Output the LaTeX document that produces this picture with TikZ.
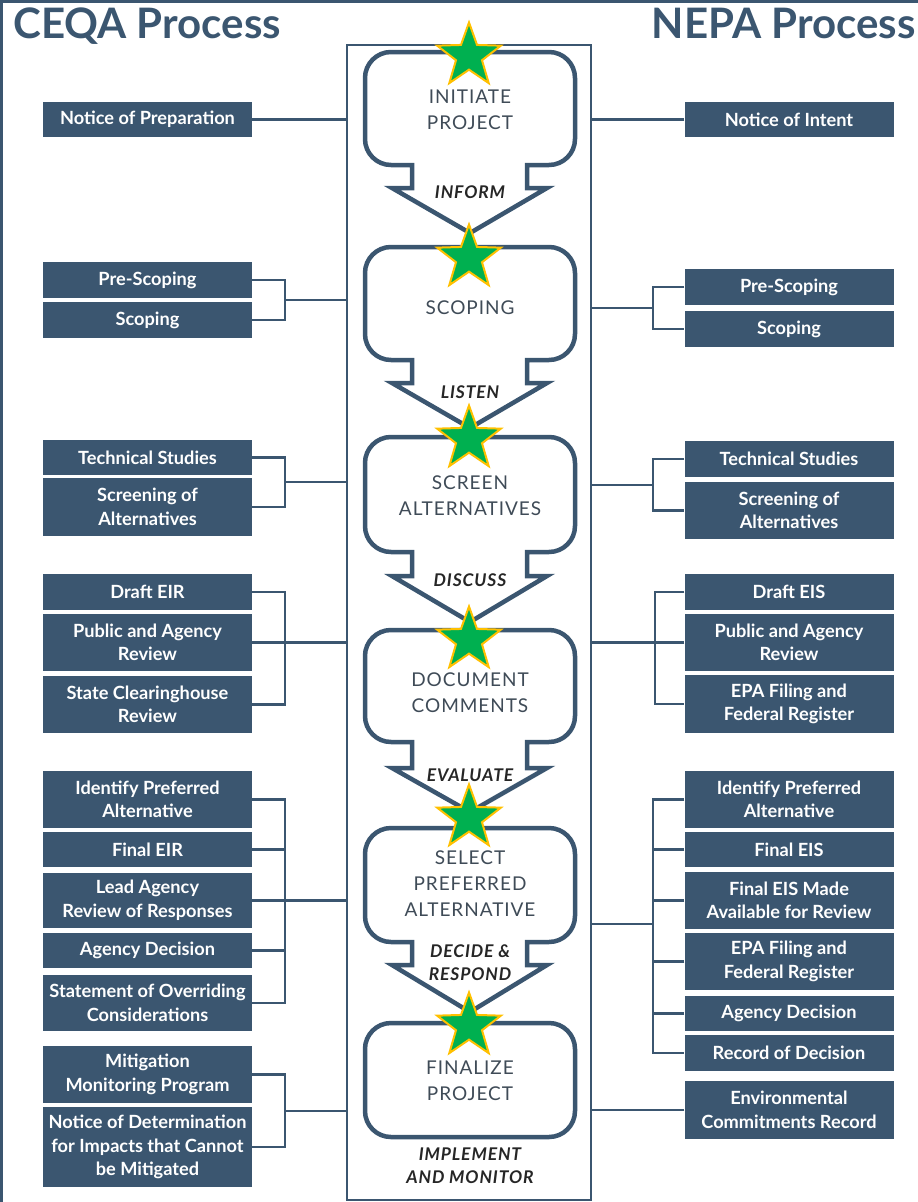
\documentclass[tikz,border=0pt]{standalone}
\usepackage{fontspec}
\setmainfont{Lato}
\newfontfamily\stagefont[LetterSpace=5]{Lato}
\newfontfamily\cuefont[LetterSpace=5]{Lato}
\usetikzlibrary{shapes.geometric}

\definecolor{boxblue}{HTML}{3B5670}
\definecolor{stagegray}{HTML}{3F4B57}
\definecolor{cuegray}{HTML}{262626}
\definecolor{stargreen}{HTML}{00B050}
\definecolor{stargold}{HTML}{FFC000}

\begin{document}
\begin{tikzpicture}[x=1pt, y=-1pt,
    title/.style={text=boxblue, font=\bfseries\fontsize{42}{50}\selectfont, inner sep=0pt},
    spine/.style={draw=boxblue, line width=2, minimum width=244, minimum height=1155, inner sep=0pt},
    stageline/.style={draw=boxblue, line width=4.5},
    stagetext/.style={text=stagegray, font=\stagefont\fontsize{19}{26}\selectfont, align=center},
    cue/.style={text=cuegray, font=\cuefont\bfseries\itshape\fontsize{17.5}{23}\selectfont, align=center},
    gstar/.style={star, star points=5, star point ratio=2.45, minimum size=67, inner sep=0pt,
        fill=stargreen, draw=stargold, line width=2},
    procbox/.style={fill=boxblue, text=white, font=\bfseries\fontsize{18.2}{23.5}\selectfont,
        align=center, inner sep=0pt, minimum width=209, minimum height=#1},
    link/.style={draw=boxblue, line width=2.2}]
    \useasboundingbox (0,0) rectangle (918,1202);

    % Frame edges
    \fill[boxblue] (0,0) rectangle (918,3);
    \fill[boxblue] (0,0) rectangle (3,1202);

    % Titles
    \node[title, anchor=base west] (ceqa) at (13,38) {CEQA Process};
    \node[title, anchor=base east] (nepa) at (916,38) {NEPA Process};

    % Spine
    \node[spine] (spine) at (469,622.5) {};

    % Stages (rounded box with arrow notch)
    \foreach \ya/\yb/\yc/\yd in {52/165/188/233, 247/360/383/428, 437/552/576/622,
                                  630/742/768/812, 828/942/965/1012}
        \draw[stageline] (412,\yb) -- (391,\yb) arc[start angle=90, end angle=180, radius=26]
            -- (365,\ya+26) arc[start angle=180, end angle=270, radius=26]
            -- (549,\ya) arc[start angle=270, end angle=360, radius=26]
            -- (575,\yb-26) arc[start angle=0, end angle=90, radius=26]
            -- (527,\yb) -- (527,\yc) -- (547,\yc) -- (470,\yd) -- (392,\yc) -- (412,\yc) -- cycle;
    \draw[stageline, rounded corners=26] (365,1023) rectangle (575,1137);

    \node[stagetext] (initiate) at (470,110) {INITIATE\\PROJECT};
    \node[stagetext] (scoping) at (470,308) {SCOPING};
    \node[stagetext] (screen) at (470,496) {SCREEN\\ALTERNATIVES};
    \node[stagetext] (document) at (470,693) {DOCUMENT\\COMMENTS};
    \node[stagetext] (select) at (470,884) {SELECT\\PREFERRED\\ALTERNATIVE};
    \node[stagetext] (finalize) at (470,1081) {FINALIZE\\PROJECT};

    \node[cue] (inform) at (470,192) {INFORM};
    \node[cue] (listen) at (470,392) {LISTEN};
    \node[cue] (discuss) at (470,580) {DISCUSS};
    \node[cue] (evaluate) at (470,775) {EVALUATE};
    \node[cue] (decide) at (470,963) {DECIDE \&\\RESPOND};
    \node[cue] (implement) at (470,1166) {IMPLEMENT\\AND MONITOR};

    % Stars
    \foreach \s/\y in {1/56, 2/258, 3/439, 4/640, 5/818, 6/1026}
        \node[gstar] (star\s) at (469,\y) {};

    % CEQA side
    \node[procbox=35] (cnop) at (147.5,119.5) {Notice of Preparation};
    \node[procbox=36] (cpre) at (147.5,280) {Pre-Scoping};
    \node[procbox=36] (csco) at (147.5,320) {Scoping};
    \node[procbox=35] (ctech) at (147.5,457.5) {Technical Studies};
    \node[procbox=58] (cscr) at (147.5,507) {Screening of\\Alternatives};
    \node[procbox=36] (cdraft) at (147.5,592) {Draft EIR};
    \node[procbox=57] (cpub) at (147.5,642.5) {Public and Agency\\Review};
    \node[procbox=57] (cstate) at (147.5,704.5) {State Clearinghouse\\Review};
    \node[procbox=57] (cident) at (147.5,799.5) {Identify Preferred\\Alternative};
    \node[procbox=35] (cfinal) at (147.5,849.5) {Final EIR};
    \node[procbox=55] (clead) at (147.5,900.5) {Lead Agency\\Review of Responses};
    \node[procbox=35] (cdec) at (147.5,950.5) {Agency Decision};
    \node[procbox=56] (cstmt) at (147.5,1003) {Statement of Overriding\\Considerations};
    \node[procbox=57] (cmit) at (147.5,1074.5) {Mitigation\\Monitoring Program};
    \node[procbox=80] (cnod) at (147.5,1147) {Notice of Determination\\for Impacts that Cannot\\be Mitigated};

    \coordinate (cj2) at (285,300);
    \coordinate (cj3) at (285,482);
    \coordinate (cj4) at (285,642.5);
    \coordinate (cj5) at (285,900.5);
    \coordinate (cj6) at (285,1111);

    \draw[link] (cnop.east) -- (cnop.east -| spine.west);
    \draw[link] (cpre.east) -| (cj2) |- (csco.east);
    \draw[link] (cj2) -- (cj2 -| spine.west);
    \draw[link] (ctech.east) -| (cj3) |- (cscr.east);
    \draw[link] (cj3) -- (cj3 -| spine.west);
    \draw[link] (cdraft.east) -| (cj4) |- (cstate.east);
    \draw[link] (cpub.east) -- (cpub.east -| spine.west);
    \draw[link] (cident.east) -| (cj5) |- (cstmt.east);
    \foreach \b in {cfinal, cdec}
        \draw[link] (\b.east) -- (\b.east -| cj5);
    \draw[link] (clead.east) -- (clead.east -| spine.west);
    \draw[link] (cmit.east) -| (cj6) |- (cnod.east);
    \draw[link] (cj6) -- (cj6 -| spine.west);

    % NEPA side
    \node[procbox=35] (nnoi) at (789,119.5) {Notice of Intent};
    \node[procbox=36] (npre) at (789,287) {Pre-Scoping};
    \node[procbox=36] (nsco) at (789,329) {Scoping};
    \node[procbox=36] (ntech) at (789,459) {Technical Studies};
    \node[procbox=57] (nscr) at (789,510.5) {Screening of\\Alternatives};
    \node[procbox=36] (ndraft) at (789,592) {Draft EIS};
    \node[procbox=57] (npub) at (789,642.5) {Public and Agency\\Review};
    \node[procbox=58] (nepa1) at (789,704) {EPA Filing and\\Federal Register};
    \node[procbox=57] (nident) at (789,799.5) {Identify Preferred\\Alternative};
    \node[procbox=35] (nfinal) at (789,849.5) {Final EIS};
    \node[procbox=57] (navail) at (789,900.5) {Final EIS Made\\Available for Review};
    \node[procbox=57] (nepa2) at (789,961.5) {EPA Filing and\\Federal Register};
    \node[procbox=35] (ndec) at (789,1013.5) {Agency Decision};
    \node[procbox=36] (nrod) at (789,1053) {Record of Decision};
    \node[procbox=58] (necr) at (789,1110) {Environmental\\Commitments Record};

    \coordinate (nj2) at (653,308);
    \coordinate (nj3) at (653,485);
    \coordinate (nj4) at (655,642.5);
    \coordinate (nj5) at (653,924);

    \draw[link] (nnoi.west) -- (nnoi.west -| spine.east);
    \draw[link] (npre.west) -| (nj2) |- (nsco.west);
    \draw[link] (nj2) -- (nj2 -| spine.east);
    \draw[link] (ntech.west) -| (nj3) |- (nscr.west);
    \draw[link] (nj3) -- (nj3 -| spine.east);
    \draw[link] (ndraft.west) -| (nj4) |- (nepa1.west);
    \draw[link] (npub.west) -- (npub.west -| spine.east);
    \draw[link] (nident.west) -| (nj5) |- (nrod.west);
    \foreach \b in {nfinal, navail, nepa2, ndec}
        \draw[link] (\b.west) -- (\b.west -| nj5);
    \draw[link] (nj5) -- (nj5 -| spine.east);
    \draw[link] (necr.west) -- (necr.west -| spine.east);
\end{tikzpicture}
\end{document}
